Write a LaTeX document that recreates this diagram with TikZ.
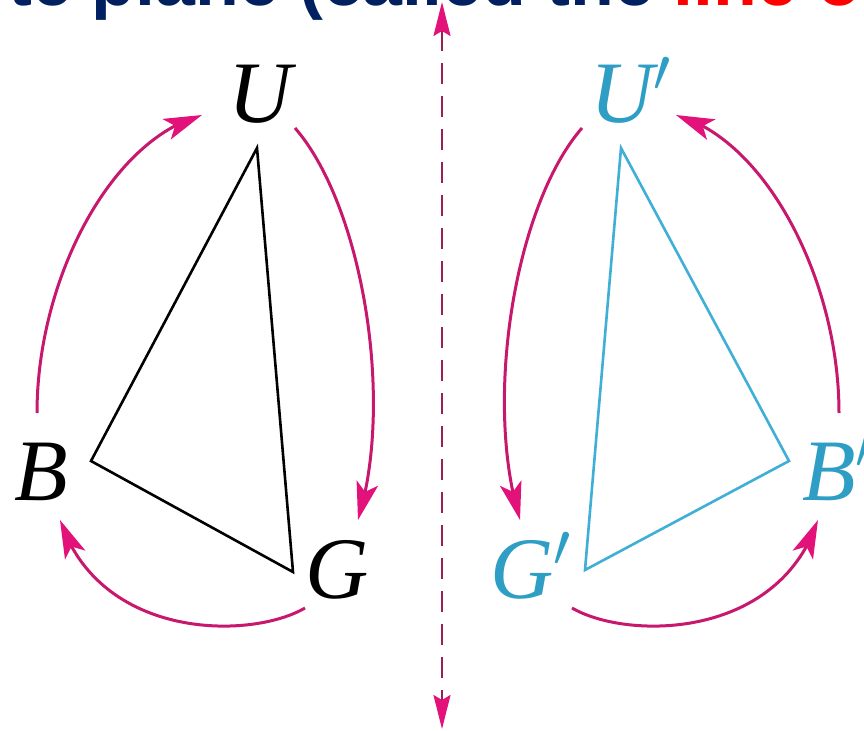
\RequirePackage{fix-cm}
\documentclass[tikz,border=0pt]{standalone}
\usepackage{fontspec}
\setmainfont{Liberation Serif}
\newfontfamily\titlefont{Liberation Sans}
\usetikzlibrary{arrows.meta,bending}
\definecolor{navy}{HTML}{002060}
\definecolor{arcpink}{HTML}{C8186E}
\definecolor{tippink}{HTML}{E3127B}
\definecolor{cyanline}{HTML}{3FAFD6}
\definecolor{cyantext}{HTML}{2E9EC4}
\definecolor{mirrorc}{HTML}{9A1E58}
\begin{document}
\begin{tikzpicture}[x=1bp,y=-1bp,
  lbl/.style={inner sep=0, anchor=base west, font=\fontsize{88}{88}\selectfont\itshape},
  tri/.style={line width=2.6bp, line join=miter},
  rot/.style={draw=arcpink, line width=3bp, -{Stealth[length=38bp,width=22bp,inset=9bp,color=tippink]}},
  mline/.style={draw=mirrorc, line width=2.2bp, dash pattern=on 21bp off 12bp,
    {Stealth[length=34bp,width=17bp,inset=5bp,color=tippink]}-{Stealth[length=34bp,width=17bp,inset=5bp,color=tippink]}}
]
\useasboundingbox (0,0) rectangle (864,731);
\fill[white] (0,0) rectangle (864,731);

% title (cut off at the top)
\node[anchor=base west, inner sep=0, text=navy,
  font=\titlefont\bfseries\fontsize{72}{72}\selectfont] (title) at (8,6)
  {te plane (called the \textcolor{red}{line o}};

% mirror line
\coordinate (mtop) at (442,2);
\coordinate (mbot) at (442,729);
\draw[mline] (mtop) -- (mbot);

% left triangle
\coordinate (u) at (257,148);
\coordinate (b) at (91,461);
\coordinate (g) at (293,572);
\draw[tri] (u) -- (b) -- (g) -- cycle;
\node[lbl] (U) at (228,123) {U};
\node[lbl] (B) at (14,500) {B};
\node[lbl] (G) at (305,598) {G};

% right triangle
\coordinate (up) at (621,148);
\coordinate (bp) at (789,461);
\coordinate (gp) at (585,570);
\draw[tri, cyanline] (up) -- (bp) -- (gp) -- cycle;
\node[lbl, text=cyantext] (Up) at (590,123) {U$'$};
\node[lbl, text=cyantext] (Bp) at (802,500) {B$'$};
\node[lbl, text=cyantext] (Gp) at (490,598) {G$'$};

% left rotation arcs
\coordinate (a1s) at (37,413);  \coordinate (a1e) at (202,115);
\coordinate (a2s) at (295,128); \coordinate (a2e) at (358,520);
\coordinate (a3s) at (305,608); \coordinate (a3e) at (60,520);
\draw[rot] (a1s) .. controls (37,280) and (110,140) .. (a1e);
\draw[rot] (a2s) .. controls (362,205) and (395,400) .. (a2e);
\draw[rot] (a3s) .. controls (250,640) and (100,640) .. (a3e);

% right rotation arcs
\coordinate (b1s) at (839,413); \coordinate (b1e) at (676,115);
\coordinate (b2s) at (582,128); \coordinate (b2e) at (520,520);
\coordinate (b3s) at (572,608); \coordinate (b3e) at (818,520);
\draw[rot] (b1s) .. controls (839,280) and (766,140) .. (b1e);
\draw[rot] (b2s) .. controls (515,205) and (483,400) .. (b2e);
\draw[rot] (b3s) .. controls (627,640) and (778,640) .. (b3e);
\end{tikzpicture}
\end{document}
